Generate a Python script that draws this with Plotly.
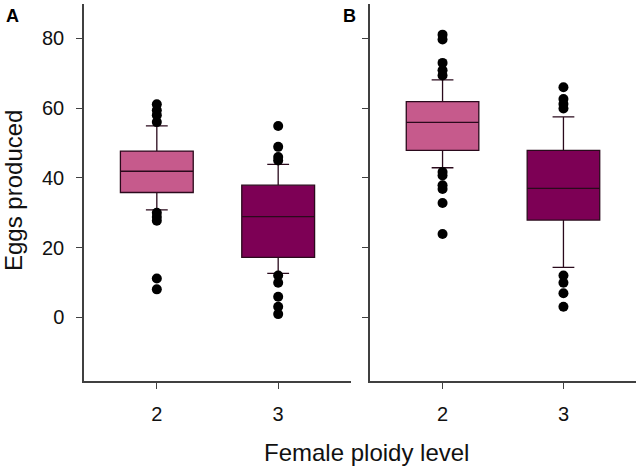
import plotly.graph_objects as go
from plotly.subplots import make_subplots

# ---- data ----
ploidy = [2, 3]
panel_labels = ["A", "B"]

# Panel A: five-number summaries
a_q1 = [35.8, 17.2]
a_median = [41.9, 28.9]
a_q3 = [47.7, 37.9]
a_lower = [30.8, 12.6]
a_upper = [54.9, 43.9]
a_out_2 = [61.1, 59.4, 58.0, 56.0, 30.0, 28.8, 27.7, 11.1, 8.0]
a_out_3 = [54.9, 48.9, 46.0, 45.0, 12.0, 9.9, 5.9, 3.0, 0.9]

# Panel B
b_q1 = [47.9, 27.9]
b_median = [55.9, 37.0]
b_q3 = [61.9, 47.9]
b_lower = [42.9, 14.3]
b_upper = [68.1, 57.5]
b_out_2 = [81.1, 79.7, 73.0, 70.9, 69.4, 41.7, 40.7, 37.9, 36.8, 32.8, 23.9]
b_out_3 = [66.0, 62.6, 61.2, 59.9, 12.0, 9.9, 6.9, 3.0]

y_ticks = [0, 20, 40, 60, 80]
colors = ["#C65A8C", "#7D0055"]

fig = make_subplots(rows=1, cols=2, horizontal_spacing=0.03)

panels = [
    (a_q1, a_median, a_q3, a_lower, a_upper, [a_out_2, a_out_3]),
    (b_q1, b_median, b_q3, b_lower, b_upper, [b_out_2, b_out_3]),
]

for col, (q1, med, q3, lo, up, outs) in enumerate(panels, start=1):
    for i, p in enumerate(ploidy):
        fig.add_trace(go.Box(
            x=[p], q1=[q1[i]], median=[med[i]], q3=[q3[i]],
            lowerfence=[lo[i]], upperfence=[up[i]],
            width=0.6, whiskerwidth=0.3, boxpoints=False,
            fillcolor=colors[i],
            line=dict(color="#2a0a1c", width=1.3),
            showlegend=False, hoverinfo="skip",
        ), row=1, col=col)
        fig.add_trace(go.Scatter(
            x=[p] * len(outs[i]), y=outs[i], mode="markers",
            marker=dict(color="black", size=10),
            showlegend=False, hoverinfo="skip",
        ), row=1, col=col)

axis_common = dict(showline=True, linecolor="#404040", linewidth=1.5,
                   ticks="outside", ticklen=6, tickwidth=1.2, tickcolor="#404040",
                   showgrid=False, zeroline=False,
                   tickfont=dict(family="Liberation Sans, Arial", size=20, color="#111"))

fig.update_xaxes(range=[1.4, 3.6], tickvals=ploidy, ticktext=[str(p) for p in ploidy],
                 ticklabelstandoff=8, **axis_common)
fig.update_yaxes(range=[-18.3, 89.9], tickvals=y_ticks, ticklabelstandoff=8, **axis_common)
fig.update_yaxes(showticklabels=False, row=1, col=2)

fig.update_layout(
    width=640, height=469,
    margin=dict(l=0, r=0, t=4, b=88),
    paper_bgcolor="white", plot_bgcolor="white",
    xaxis=dict(domain=[84 / 640, 351 / 640]),
    xaxis2=dict(domain=[370 / 640, 636 / 640]),
    font=dict(family="Liberation Sans, Arial", color="#111"),
)

fig.add_annotation(text="Eggs produced", xref="paper", yref="paper",
                   x=13 / 640, y=(377 - 187) / 377, textangle=-90,
                   showarrow=False, font=dict(size=24), xanchor="center", yanchor="middle")
fig.add_annotation(text="Female ploidy level", xref="paper", yref="paper",
                   x=366 / 640, y=-(452 - 381) / 377,
                   showarrow=False, font=dict(size=24), xanchor="center", yanchor="middle")
fig.add_annotation(text="<b>A</b>", xref="paper", yref="paper",
                   x=12 / 640, y=(377 - 12) / 377,
                   showarrow=False, font=dict(size=18, color="black"), xanchor="center", yanchor="middle")
fig.add_annotation(text="<b>B</b>", xref="paper", yref="paper",
                   x=349 / 640, y=(377 - 12) / 377,
                   showarrow=False, font=dict(size=18, color="black"), xanchor="center", yanchor="middle")

fig.write_html("out.html", config={"displayModeBar": False},
               post_script="document.body.style.margin='0';")
